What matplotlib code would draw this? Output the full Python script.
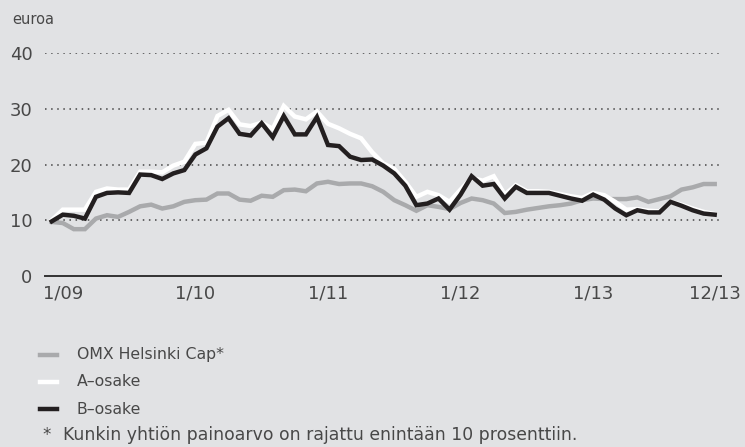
import matplotlib
matplotlib.use('Agg')
from matplotlib import pyplot as plt
from matplotlib.lines import Line2D

plt.rcParams['font.family'] = ['DejaVu Sans']

# monthly closing values 12/08 ... 12/13
omx = [9.7, 9.5, 8.4, 8.4, 10.3, 10.9, 10.6, 11.5, 12.5, 12.8,
       12.1, 12.5, 13.3, 13.6, 13.7, 14.8, 14.8, 13.7, 13.5, 14.4,
       14.2, 15.4, 15.5, 15.2, 16.6, 16.9, 16.5, 16.6, 16.6, 16.1,
       15.1, 13.6, 12.7, 11.7, 12.7, 12.4, 12.0, 13.1, 13.9, 13.6,
       13.0, 11.3, 11.5, 11.9, 12.2, 12.5, 12.7, 13.0, 13.6, 13.9,
       13.8, 13.8, 13.8, 14.1, 13.3, 13.8, 14.3, 15.5, 15.9, 16.5, 16.5]
a_share = [10.0, 11.9, 11.9, 11.9, 15.1, 15.7, 15.5, 15.5, 18.7, 18.7,
           18.6, 19.8, 20.5, 23.7, 23.9, 28.7, 29.8, 27.2, 26.9, 27.5,
           26.4, 30.5, 28.6, 28.1, 29.5, 27.3, 26.5, 25.5, 24.7, 22.2,
           20.2, 19.2, 16.9, 14.2, 15.1, 14.5, 13.3, 15.5, 17.6, 17.1,
           17.9, 14.6, 16.3, 15.2, 15.2, 15.1, 14.7, 14.3, 14.0, 14.9,
           14.5, 13.3, 11.9, 12.0, 11.7, 11.6, 13.3, 12.8, 12.1, 11.5, 11.1]
b_share = [9.8, 11.0, 10.8, 10.3, 14.2, 14.9, 15.0, 14.9, 18.2, 18.1,
           17.4, 18.4, 19.0, 21.8, 22.9, 26.8, 28.3, 25.5, 25.2, 27.4,
           24.9, 28.7, 25.4, 25.4, 28.5, 23.5, 23.3, 21.4, 20.8, 20.9,
           19.8, 18.4, 16.2, 12.7, 13.0, 13.9, 11.9, 14.6, 17.9, 16.2,
           16.5, 13.9, 16.0, 14.9, 14.9, 14.9, 14.4, 13.9, 13.5, 14.6,
           13.7, 12.1, 10.9, 11.8, 11.4, 11.4, 13.3, 12.6, 11.8, 11.2, 11.0]
months = list(range(len(b_share)))

tick_pos = [1, 13, 25, 37, 49, 60]
tick_labels = ['1/09', '1/10', '1/11', '1/12', '1/13', '12/13']
y_ticks = [0, 10, 20, 30, 40]

bg = '#e1e2e4'
txt = '#484848'
W, H = 745, 447

fig = plt.figure(figsize=(7.45, 4.47), dpi=100, facecolor=bg)
ax = fig.add_axes([45 / W, 1 - 276 / H, (721 - 45) / W, (276 - 53) / H])
ax.set_facecolor(bg)

for y in y_ticks[1:]:
    ax.axhline(y, color='#444444', lw=1.1, linestyle=(0, (1, 3)), zorder=1)

ax.plot(months, omx, color='#a9aaac', lw=3.2, solid_joinstyle='miter', zorder=2)
ax.plot(months, a_share, color='white', lw=3.2, solid_joinstyle='miter', zorder=3)
ax.plot(months, b_share, color='#231f20', lw=3.2, solid_joinstyle='miter', zorder=4)

ax.set_xlim(-0.61, 60.57)
ax.set_ylim(0, 40)
for s in ['top', 'right', 'left']:
    ax.spines[s].set_visible(False)
ax.spines['bottom'].set_color('#333333')
ax.spines['bottom'].set_linewidth(1.4)

ax.set_yticks(y_ticks)
ax.set_yticklabels([str(v) for v in y_ticks])
ax.set_xticks(tick_pos)
ax.set_xticklabels(tick_labels)
ax.tick_params(axis='y', length=0, pad=9, labelsize=13, labelcolor=txt)
ax.tick_params(axis='x', length=0, pad=6, labelsize=13, labelcolor=txt)

fig.text(12 / W, 1 - 20 / H, 'euroa', fontsize=10.5, color=txt,
         va='center', ha='left')

# legend
legend_items = [('OMX Helsinki Cap*', '#a9aaac', 355),
                ('A\u2013osake', 'white', 382),
                ('B\u2013osake', '#231f20', 409)]
for label, col, ypx in legend_items:
    yf = 1 - ypx / H
    fig.add_artist(Line2D([40 / W, 57 / W], [yf, yf], color=col, lw=3.2,
                          transform=fig.transFigure))
    fig.text(77 / W, yf, label, fontsize=11.3, color=txt, va='center',
             ha='left')

fig.text(42 / W, 1 - 435 / H, '*', fontsize=12, color=txt, va='center', ha='left')
fig.text(63 / W, 1 - 435 / H, 'Kunkin yhtiön painoarvo on rajattu enintään 10 prosenttiin.',
         fontsize=12.4, color=txt, va='center', ha='left')

fig.savefig('out.png', dpi=100, facecolor=bg)
